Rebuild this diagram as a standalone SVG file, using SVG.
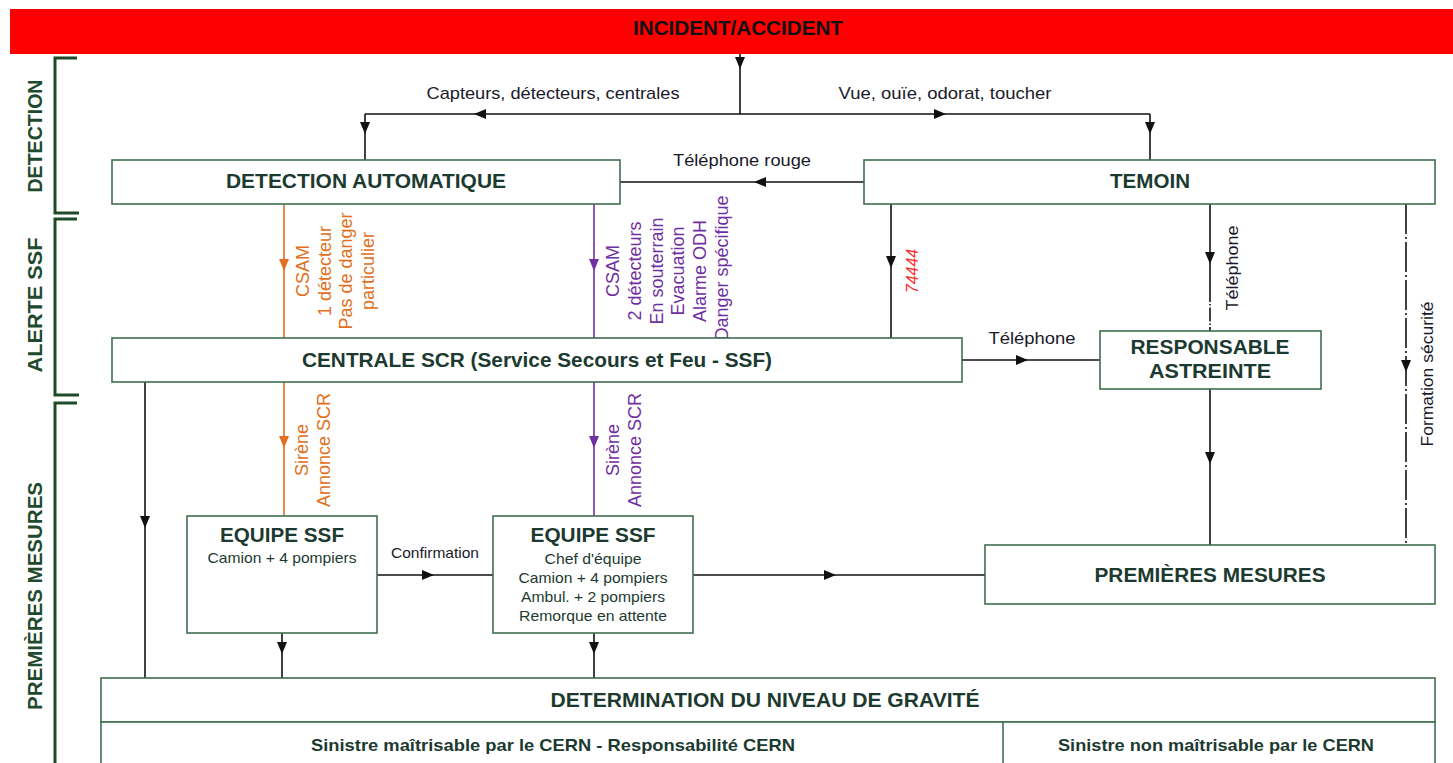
<svg xmlns="http://www.w3.org/2000/svg" width="1453" height="763" viewBox="0 0 1453 763">
<style>
.box{fill:#fff;stroke:#3f6f4f;stroke-width:1.6}
.t{font-family:"Liberation Sans",Arial,sans-serif;font-weight:bold;font-size:20px;fill:#1c3a30;text-anchor:middle}
.s{font-family:"Liberation Sans",Arial,sans-serif;font-size:15px;fill:#1c3a30;text-anchor:middle}
.lbl{font-family:"Liberation Sans",Arial,sans-serif;font-size:17px;fill:#1a1a2a;text-anchor:middle}
.side{font-family:"Liberation Sans",Arial,sans-serif;font-weight:bold;font-size:20px;fill:#1f4a2e;text-anchor:middle}
.or{font-family:"Liberation Sans",Arial,sans-serif;font-size:18px;fill:#e07020;text-anchor:middle}
.pu{font-family:"Liberation Sans",Arial,sans-serif;font-size:18px;fill:#7030a0;text-anchor:middle}
.c{fill:none;stroke:#111;stroke-width:1.6;marker-mid:url(#ab)}
.co{fill:none;stroke:#e07020;stroke-width:1.6;marker-mid:url(#ao)}
.cp{fill:none;stroke:#7030a0;stroke-width:1.6;marker-mid:url(#ap)}
.br{fill:none;stroke:#1e4a2a;stroke-width:3}
</style>
<defs>
<marker id="ab" viewBox="0 0 12 10" refX="6" refY="5" markerWidth="12" markerHeight="11" markerUnits="userSpaceOnUse" orient="auto"><path d="M0,0 L12,5 L0,10 z" fill="#111"/></marker>
<marker id="ao" viewBox="0 0 12 10" refX="6" refY="5" markerWidth="12" markerHeight="11" markerUnits="userSpaceOnUse" orient="auto"><path d="M0,0 L12,5 L0,10 z" fill="#e07020"/></marker>
<marker id="ap" viewBox="0 0 12 10" refX="6" refY="5" markerWidth="12" markerHeight="11" markerUnits="userSpaceOnUse" orient="auto"><path d="M0,0 L12,5 L0,10 z" fill="#7030a0"/></marker>
</defs>
<rect width="1453" height="763" fill="#fff"/>

<g id="incident">
<rect x="10" y="9" width="1443" height="45" fill="#ff0000"/>
<text x="738" y="35" class="t" style="fill:#111" textLength="210" lengthAdjust="spacingAndGlyphs">INCIDENT/ACCIDENT</text>
</g>

<g id="sections">
<path class="br" d="M77,58 H55 V213 H79"/>
<path class="br" d="M77,219 H55 V395 H79"/>
<path class="br" d="M77,403 H55 V770"/>
<text class="side" transform="translate(42,136) rotate(-90)" textLength="113" lengthAdjust="spacingAndGlyphs">DETECTION</text>
<text class="side" transform="translate(42,305) rotate(-90)" textLength="135" lengthAdjust="spacingAndGlyphs">ALERTE SSF</text>
<text class="side" transform="translate(42,596) rotate(-90)" textLength="228" lengthAdjust="spacingAndGlyphs">PREMIÈRES MESURES</text>
</g>

<g id="connectors">
<path class="c" d="M740,54 L740,63 L740,114"/>
<path class="c" d="M740,114 L480,114 L365,114"/>
<path class="c" d="M365,114 L365,128 L365,160"/>
<path class="c" d="M740,114 L940,114 L1150,114"/>
<path class="c" d="M1150,114 L1150,128 L1150,160"/>
<path class="c" d="M864,182 L760,182 L620,182"/>
<path class="co" d="M284,204 L284,265 L284,338"/>
<path class="cp" d="M594,204 L594,265 L594,338"/>
<path class="co" d="M284,382 L284,442 L284,516"/>
<path class="cp" d="M594,382 L594,442 L594,516"/>
<path class="c" d="M891,204 L891,262 L891,338"/>
<path class="c" d="M962,360 L1022,360 L1100,360"/>
<path class="c" d="M1210,204 L1210,258 L1210,288"/>
<path fill="none" stroke="#111" stroke-width="1.6" stroke-dasharray="14,2,1.5,2" d="M1210,288 V331"/>
<path class="c" stroke-dasharray="30,3,2,3" d="M1406,204 L1406,366 L1406,545"/>
<path class="c" d="M1210,389 L1210,458 L1210,545"/>
<path class="c" d="M145,382 L145,522 L145,678"/>
<path class="c" d="M377,575 L428,575 L493,575"/>
<path class="c" d="M693,575 L830,575 L985,575"/>
<path class="c" d="M282,633 L282,648 L282,678"/>
<path class="c" d="M594,633 L594,648 L594,678"/>

<text class="lbl" x="553" y="99" textLength="253" lengthAdjust="spacingAndGlyphs">Capteurs, détecteurs, centrales</text>
<text class="lbl" x="945" y="99" textLength="213" lengthAdjust="spacingAndGlyphs">Vue, ouïe, odorat, toucher</text>
<text class="lbl" x="742" y="166" textLength="138" lengthAdjust="spacingAndGlyphs">Téléphone rouge</text>
<text class="lbl" x="1032" y="344" textLength="87" lengthAdjust="spacingAndGlyphs">Téléphone</text>
<text class="lbl" x="435" y="558" style="font-size:15px" textLength="88" lengthAdjust="spacingAndGlyphs">Confirmation</text>

<text class="or" transform="translate(309,271) rotate(-90)">CSAM</text>
<text class="or" transform="translate(331,271) rotate(-90)">1 détecteur</text>
<text class="or" transform="translate(352,271) rotate(-90)">Pas de danger</text>
<text class="or" transform="translate(374,271) rotate(-90)">particulier</text>

<text class="pu" transform="translate(619,271) rotate(-90)">CSAM</text>
<text class="pu" transform="translate(641,271) rotate(-90)">2 détecteurs</text>
<text class="pu" transform="translate(663,271) rotate(-90)">En souterrain</text>
<text class="pu" transform="translate(684,271) rotate(-90)">Evacuation</text>
<text class="pu" transform="translate(706,271) rotate(-90)">Alarme ODH</text>
<text class="pu" transform="translate(728,268) rotate(-90)">Danger spécifique</text>

<text class="or" transform="translate(308,450) rotate(-90)">Sirène</text>
<text class="or" transform="translate(330,450) rotate(-90)">Annonce SCR</text>
<text class="pu" transform="translate(619,450) rotate(-90)">Sirène</text>
<text class="pu" transform="translate(641,450) rotate(-90)">Annonce SCR</text>

<text transform="translate(918,271) rotate(-90)" style="font-family:'Liberation Sans',Arial,sans-serif;font-size:16px;font-style:italic;fill:#ff2a2a;text-anchor:middle">74444</text>
<text class="lbl" transform="translate(1238,268) rotate(-90)" textLength="85" lengthAdjust="spacingAndGlyphs">Téléphone</text>
<text class="lbl" transform="translate(1433,374) rotate(-90)" textLength="145" lengthAdjust="spacingAndGlyphs">Formation sécurité</text>
</g>

<g id="detection-automatique">
<rect class="box" x="112" y="160" width="508" height="44"/>
<text class="t" x="366" y="188" textLength="280" lengthAdjust="spacingAndGlyphs">DETECTION AUTOMATIQUE</text>
</g>
<g id="temoin">
<rect class="box" x="864" y="160" width="571" height="44"/>
<text class="t" x="1150" y="188" textLength="80" lengthAdjust="spacingAndGlyphs">TEMOIN</text>
</g>
<g id="centrale">
<rect class="box" x="112" y="338" width="850" height="44"/>
<text class="t" x="537" y="367" textLength="470" lengthAdjust="spacingAndGlyphs">CENTRALE SCR (Service Secours et Feu - SSF)</text>
</g>
<g id="responsable">
<rect class="box" x="1100" y="331" width="221" height="58"/>
<text class="t" x="1210" y="354" textLength="159" lengthAdjust="spacingAndGlyphs">RESPONSABLE</text>
<text class="t" x="1210" y="378" textLength="122" lengthAdjust="spacingAndGlyphs">ASTREINTE</text>
</g>
<g id="equipe1">
<rect class="box" x="187" y="516" width="190" height="117"/>
<text class="t" x="282" y="542" textLength="124" lengthAdjust="spacingAndGlyphs">EQUIPE SSF</text>
<text class="s" x="282" y="563" textLength="149" lengthAdjust="spacingAndGlyphs">Camion + 4 pompiers</text>
</g>
<g id="equipe2">
<rect class="box" x="493" y="516" width="200" height="117"/>
<text class="t" x="593" y="542" textLength="125" lengthAdjust="spacingAndGlyphs">EQUIPE SSF</text>
<text class="s" x="593" y="564" textLength="97" lengthAdjust="spacingAndGlyphs">Chef d'équipe</text>
<text class="s" x="593" y="583" textLength="149" lengthAdjust="spacingAndGlyphs">Camion + 4 pompiers</text>
<text class="s" x="593" y="602" textLength="144" lengthAdjust="spacingAndGlyphs">Ambul. + 2 pompiers</text>
<text class="s" x="593" y="621" textLength="148" lengthAdjust="spacingAndGlyphs">Remorque en attente</text>
</g>
<g id="premieres-mesures">
<rect class="box" x="985" y="545" width="450" height="59"/>
<text class="t" x="1210" y="582" textLength="231" lengthAdjust="spacingAndGlyphs">PREMIÈRES MESURES</text>
</g>
<g id="determination">
<rect class="box" x="101" y="678" width="1334" height="44"/>
<text class="t" x="765" y="707" textLength="429" lengthAdjust="spacingAndGlyphs">DETERMINATION DU NIVEAU DE GRAVITÉ</text>
<rect class="box" x="101" y="722" width="1334" height="60"/>
<line x1="1003" y1="722" x2="1003" y2="782" stroke="#3f6f4f" stroke-width="1.6"/>
<text class="t" style="font-size:17px" x="553" y="751" textLength="484" lengthAdjust="spacingAndGlyphs">Sinistre maîtrisable par le CERN - Responsabilité CERN</text>
<text class="t" style="font-size:17px" x="1216" y="751" textLength="316" lengthAdjust="spacingAndGlyphs">Sinistre non maîtrisable par le CERN</text>
</g>
</svg>
